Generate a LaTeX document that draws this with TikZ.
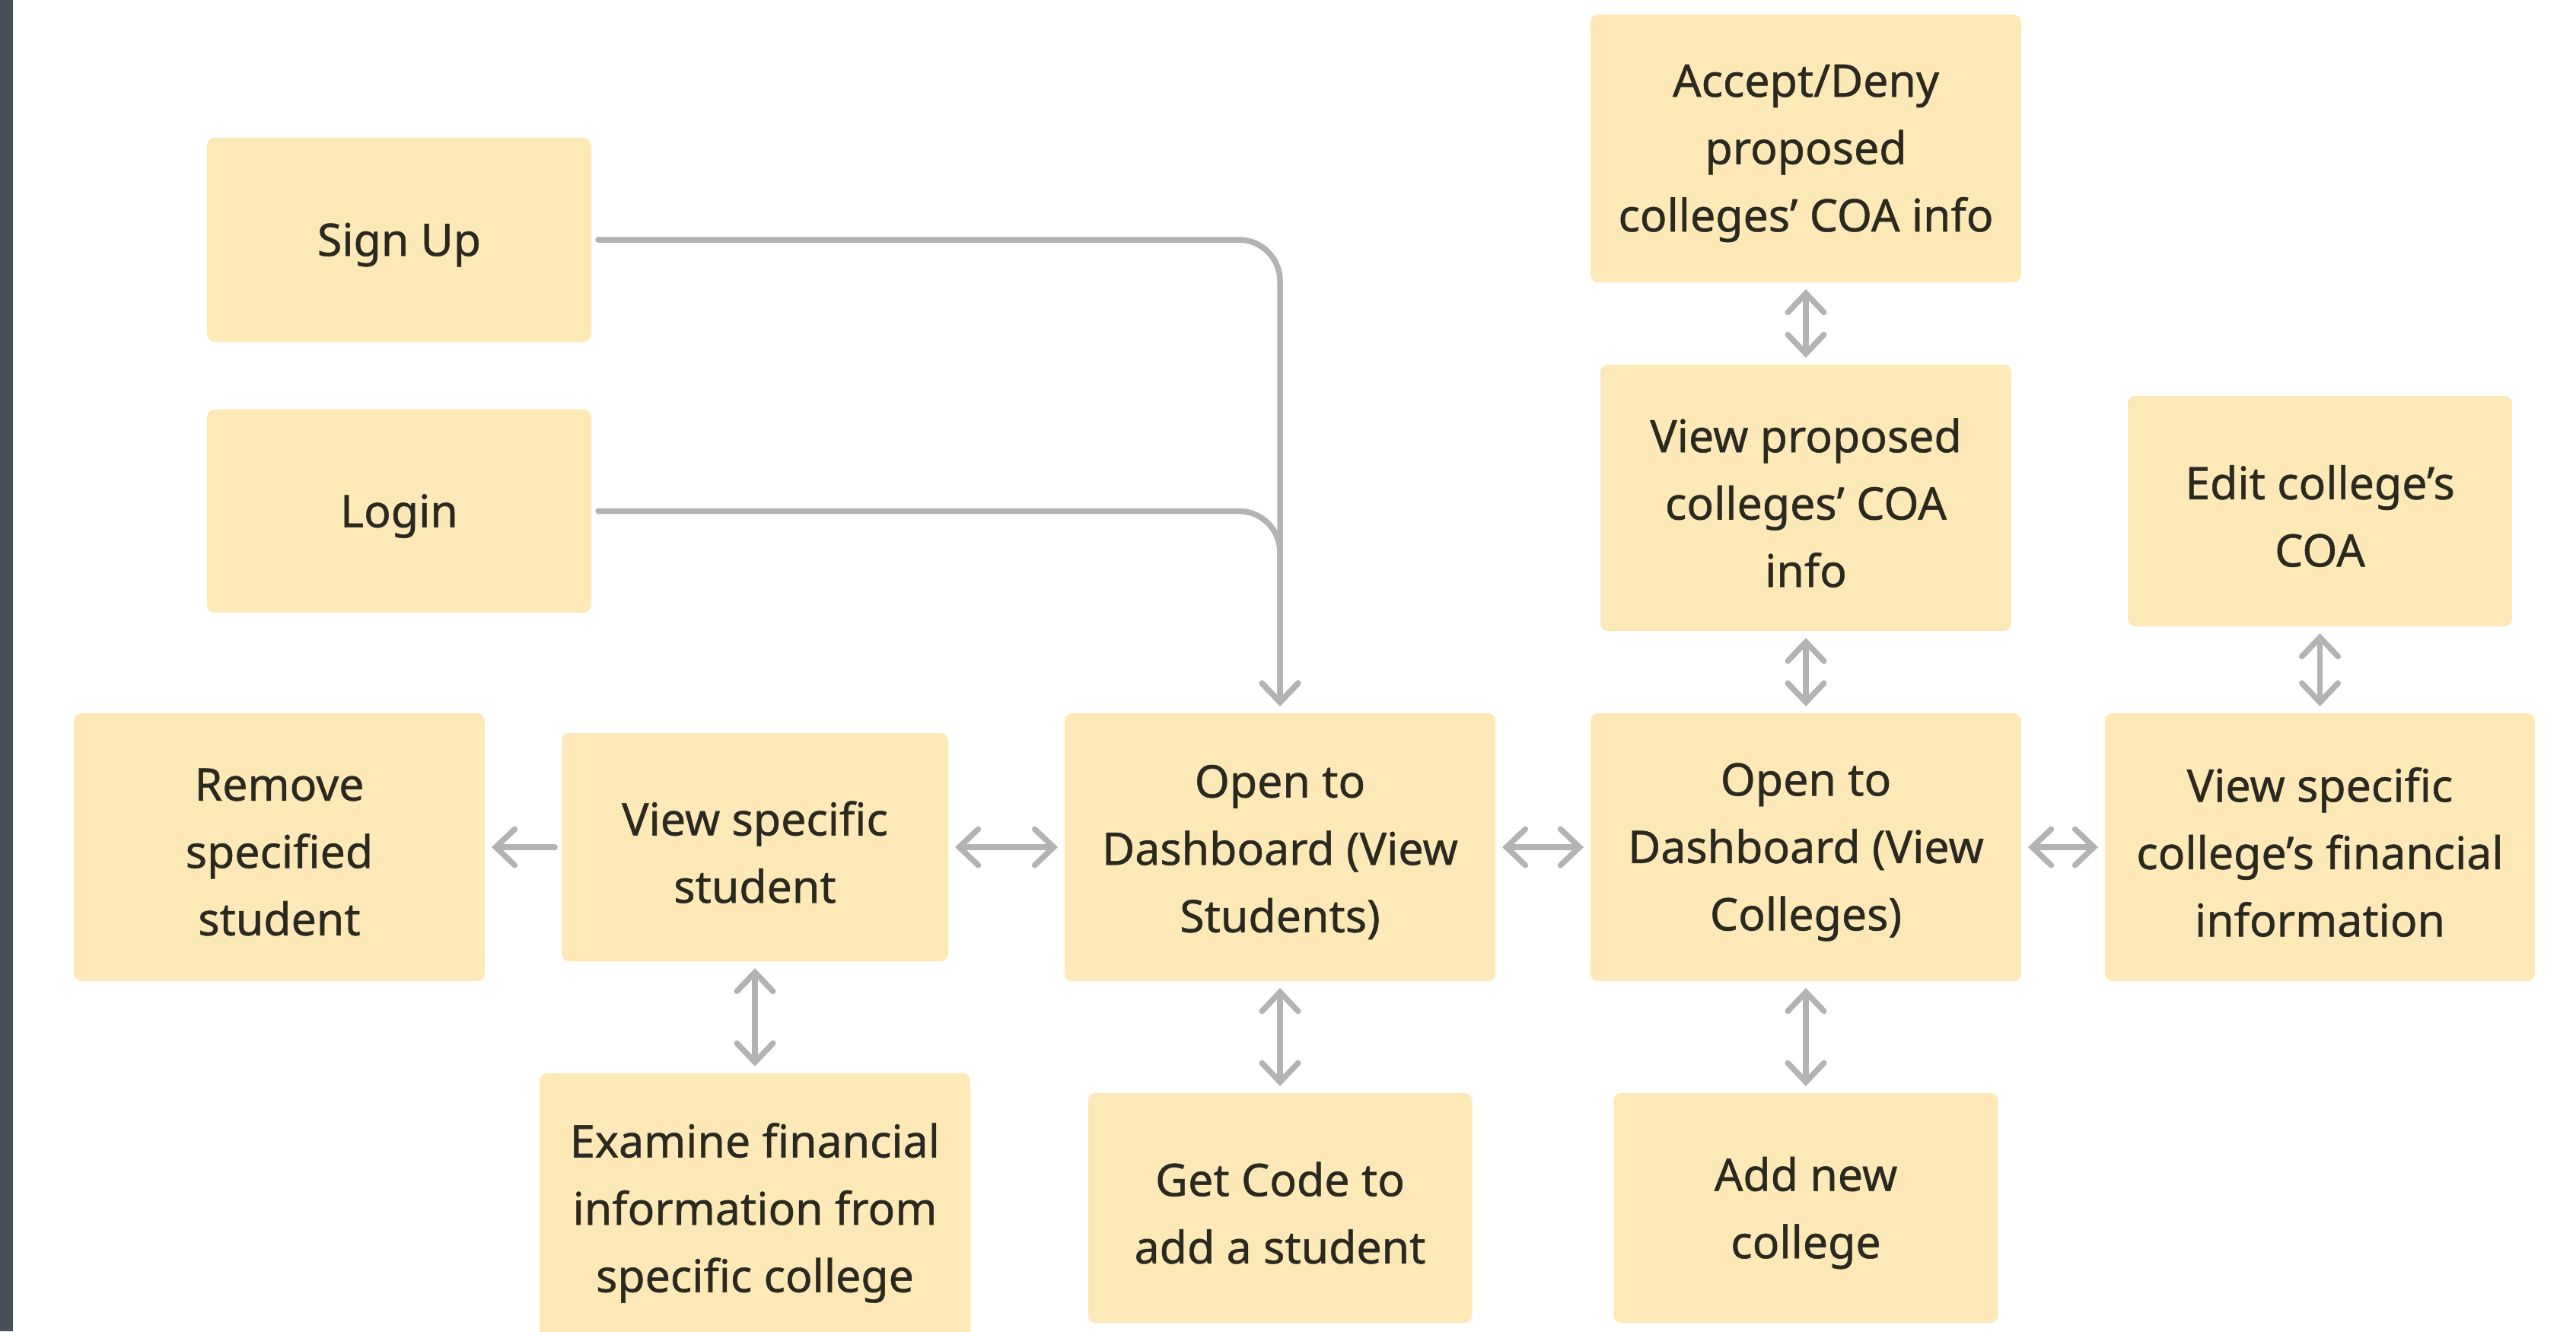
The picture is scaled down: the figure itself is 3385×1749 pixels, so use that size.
\documentclass[tikz,border=0pt]{standalone}
\usepackage{fontspec}
\setmainfont{Noto Sans}
\newfontfamily\boxfont{Noto Sans}[FakeBold=0.8]
\usetikzlibrary{arrows.meta}
\definecolor{boxfill}{HTML}{FDE9B7}
\definecolor{txt}{HTML}{2B291F}
\definecolor{arr}{HTML}{B3B3B3}
\definecolor{sidebar}{HTML}{4A505B}
\newcommand{\bx}[6]{%
  \node[box, sz={#4}{#5}] (#1) at (#2,#3) {};
  \node[boxtext] (#1-t) at ([yshift=-1.3pt]#1.center) {#6};}
\begin{document}
\begin{tikzpicture}[x=0.2pt,y=-0.2pt,
  >={Straight Barb[length=5pt,width=9.5pt,line cap=round]},
  box/.style={fill=boxfill, rounded corners=2pt, inner sep=0pt},
  boxtext/.style={text=txt, align=center,
    font=\boxfont\fontsize{11.8pt}{17.7pt}\selectfont, inner sep=0pt},
  sz/.style 2 args={minimum width=#1*0.2pt, minimum height=#2*0.2pt},
  link/.style={draw=arr, line width=1.5pt, line cap=round, shorten >=1.6pt, shorten <=1.6pt}]
\useasboundingbox (0,0) rectangle (3385,1749);
\clip (0,0) rectangle (3385,1749);
\fill[white] (0,0) rectangle (3385,1749);
\fill[sidebar] (0,0) rectangle (17,1749);

\bx{signup}{524.5}{315}{505}{268}{Sign Up}
\bx{login}{524.5}{671.5}{505}{267}{Login}
\bx{accept}{2373}{195}{566}{352}{Accept/Deny\\proposed\\colleges’ COA info}
\bx{viewprop}{2373}{654}{540}{350}{View proposed\\colleges’ COA\\info}
\bx{editcoa}{3048.5}{671.5}{505}{303}{Edit college’s\\COA}
\bx{remove}{367}{1113}{540}{352}{Remove\\specified\\student}
\bx{viewstu}{992}{1113}{508}{300}{View specific\\student}
\bx{dashstu}{1682}{1113}{566}{352}{Open to\\Dashboard (View\\Students)}
\bx{dashcol}{2373}{1113}{566}{352}{Open to\\Dashboard (View\\Colleges)}
\bx{viewcol}{3048.5}{1113}{565}{352}{View specific\\college’s financial\\information}
\bx{examine}{992}{1587}{566}{354}{Examine financial\\information from\\specific college}
\bx{getcode}{1682}{1587}{505}{302}{Get Code to\\add a student}
\bx{addcol}{2373}{1587}{505}{302}{Add new\\college}

\draw[link,->,rounded corners=10.8pt] (signup.east) -| (dashstu.north);
\draw[link,->,rounded corners=10.8pt] (login.east) -| (dashstu.north);
\draw[link,<-] (remove.east) -- (viewstu.west);
\draw[link,<->] (viewstu.east) -- (dashstu.west);
\draw[link,<->] (dashstu.east) -- (dashcol.west);
\draw[link,<->] (dashcol.east) -- (viewcol.west);
\draw[link,<->] (viewstu.south) -- (examine.north);
\draw[link,<->] (dashstu.south) -- (getcode.north);
\draw[link,<->] (dashcol.south) -- (addcol.north);
\draw[link,<->] (dashcol.north) -- (viewprop.south);
\draw[link,<->] (viewprop.north) -- (accept.south);
\draw[link,<->] (viewcol.north) -- (editcoa.south);
\end{tikzpicture}
\end{document}
